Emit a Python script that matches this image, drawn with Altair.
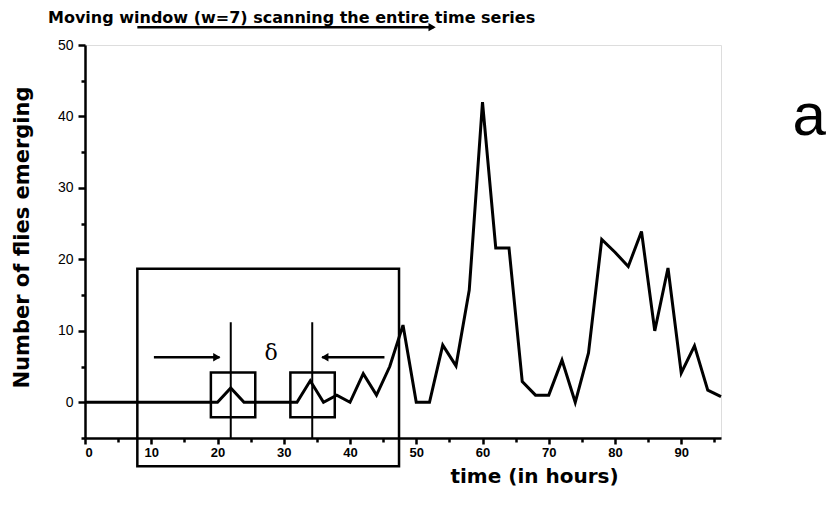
import altair as alt
import pandas as pd

# ---- data ----
hours = list(range(0, 98, 2))
flies = [0, 0, 0, 0, 0, 0, 0, 0, 0, 0,      # 0..18
         0, 2, 0, 0, 0, 0, 0, 3, 0, 1,      # 20..38
         0, 4, 1, 5, 10.8, 0, 0, 8, 5.1, 15.7,  # 40..58
         42, 21.6, 21.6, 2.9, 1, 1, 5.9, 0, 6.9, 22.8,  # 60..78
         21, 19, 23.9, 10, 18.8, 4.1, 7.9, 1.7, 0.8]    # 80..96

x_major = list(range(0, 91, 10))
x_minor = list(range(5, 96, 10))
y_major = list(range(0, 51, 10))
y_minor = list(range(-5, 46, 10))

# annotation geometry (data units)
box_x = [7.9, 19.0, 31.0]
box_x2 = [47.4, 25.7, 37.7]
box_y = [18.7, 4.15, 4.15]
box_y2 = [-8.95, -2.1, -2.1]

vline_x = [22.0, 34.3]
vline_top = [11.2, 11.2]
vline_bottom = [-5, -5]

arrow_x = [7.9, 10.4, 45.2]
arrow_x2 = [52.6, 20.3, 35.8]
arrow_y = [52.5, 6.3, 6.3]

head_x = [52.4, 19.9, 36.2]
head_y = [52.5, 6.3, 6.3]
head_shape = ["triangle-right", "triangle-right", "triangle-left"]

series = pd.DataFrame({"t": hours, "n": flies})
boxes = pd.DataFrame({"x": box_x, "x2": box_x2, "y": box_y, "y2": box_y2})
vlines = pd.DataFrame({"x": vline_x, "y": vline_top, "y2": vline_bottom})
arrows = pd.DataFrame({"x": arrow_x, "x2": arrow_x2, "y": arrow_y})
heads = pd.DataFrame({"x": head_x, "y": head_y, "shape": head_shape})
delta = pd.DataFrame({"x": [28.1], "y": [6.9], "label": ["δ"]})
panel = pd.DataFrame({"x": [109.3], "y": [37.4], "label": ["a"]})

xscale = alt.Scale(domain=[0, 96], nice=False, zero=False)
yscale = alt.Scale(domain=[-5, 50], nice=False, zero=False)

common = dict(grid=False, domainColor="black", domainWidth=2.5,
              tickColor="black", tickWidth=2.5, labelColor="black")

xaxis = alt.Axis(
    values=x_major, tickSize=6, orient="bottom",
    title="time (in hours)",
    titleFont="DejaVu Sans", titleFontSize=20, titleFontWeight="bold",
    titleX=449, titleY=38, titleBaseline="middle", titleAlign="center",
    labelFont="Liberation Sans", labelFontSize=13, labelFontWeight="bold",
    labelPadding=2, labelOverlap=False, **common,
)
xaxis_minor = alt.Axis(values=x_minor, tickSize=4, orient="bottom", labels=False,
                       domain=False, title=None, grid=False,
                       tickColor="black", tickWidth=2.5)
yaxis = alt.Axis(
    values=y_major, tickSize=7, orient="left",
    title="Number of flies emerging",
    titleFont="DejaVu Sans", titleFontSize=21, titleFontWeight="bold",
    titleX=-63, titleY=192, titleBaseline="middle", titleAlign="center", titleAngle=-90,
    labelFont="Liberation Sans", labelFontSize=14, labelPadding=5,
    labelOverlap=False, **common,
)
yaxis_minor = alt.Axis(values=y_minor, tickSize=4, orient="left", labels=False,
                       domain=False, title=None, grid=False,
                       tickColor="black", tickWidth=2.5)


def X(f, axis=None):
    return alt.X(f, type="quantitative", scale=xscale, axis=axis)


def Y(f, axis=None):
    return alt.Y(f, type="quantitative", scale=yscale, axis=axis)


line = alt.Chart(series).mark_line(color="black", strokeWidth=3, strokeJoin="miter").encode(
    x=X("t", xaxis), y=Y("n", yaxis),
)

rects = alt.Chart(boxes).mark_rect(fillOpacity=0, stroke="black", strokeWidth=2.5).encode(
    x=X("x", xaxis_minor), x2="x2:Q", y=Y("y", yaxis_minor), y2="y2:Q"
)

vr = alt.Chart(vlines).mark_rule(color="black", strokeWidth=2).encode(
    x=X("x"), y=Y("y"), y2="y2:Q"
)

ar = alt.Chart(arrows).mark_rule(color="black", strokeWidth=2.5).encode(
    x=X("x"), x2="x2:Q", y=Y("y")
)

hd = alt.Chart(heads).mark_point(filled=True, color="black", size=70, opacity=1).encode(
    x=X("x"), y=Y("y"),
    shape=alt.Shape("shape:N", scale=None, legend=None),
)

dt = alt.Chart(delta).mark_text(font="DejaVu Serif", fontSize=22, color="black").encode(
    x=X("x"), y=Y("y"), text="label:N"
)

pa = alt.Chart(panel).mark_text(font="Liberation Sans", fontSize=60, color="black",
                                baseline="alphabetic", align="center").encode(
    x=X("x"), y=Y("y"), text="label:N"
)

chart = alt.layer(line, rects, vr, ar, hd, dt, pa).resolve_axis(
    x="independent", y="independent"
).properties(
    width=636, height=393,
    autosize=alt.AutoSizeParams(type="none"),
    padding={"left": 77, "top": 37, "right": 105, "bottom": 75},
    title=alt.TitleParams(
        "Moving window (w=7) scanning the entire time series",
        anchor="start", frame="group", dx=-37, offset=-3,
        font="DejaVu Sans", fontSize=16, fontWeight="bold", color="black",
    ),
).configure_view(strokeWidth=0).configure(background="white")

chart.save("out.html", embed_options={"renderer": "svg", "actions": False})
